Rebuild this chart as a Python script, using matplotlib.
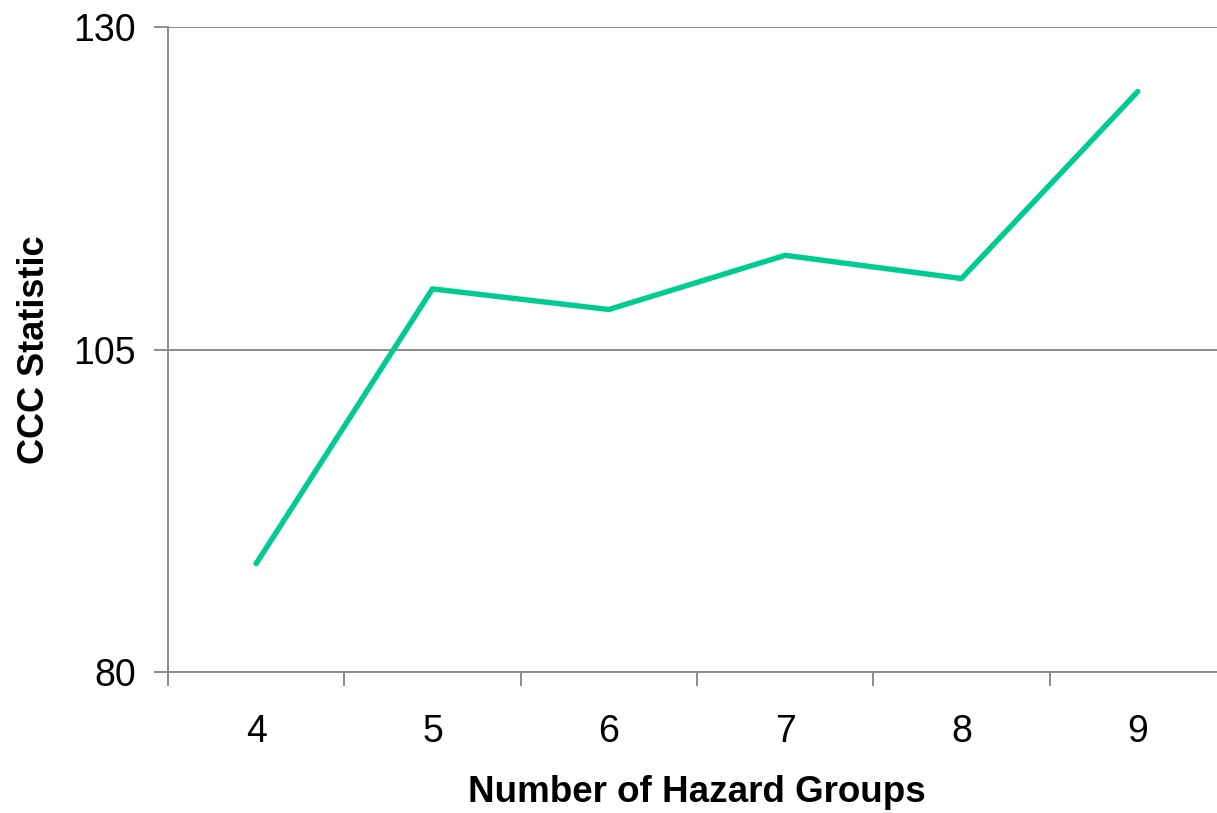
import matplotlib.pyplot as plt

plt.rcParams['font.family'] = ['Liberation Sans', 'DejaVu Sans']

groups = [4, 5, 6, 7, 8, 9]
ccc = [88.4, 109.7, 108.1, 112.3, 110.5, 125.0]

fig = plt.figure(figsize=(12.17, 8.13), dpi=100)
ax = fig.add_axes([168 / 1217, 141 / 813, 1058 / 1217, 645 / 813])

ax.plot(groups, ccc, color='#00CC92', lw=3.9, solid_capstyle='round',
        solid_joinstyle='round', zorder=3)

ax.set_xlim(3.5, 9.5)
ax.set_ylim(80, 130)
ax.set_yticks([80, 105, 130])
ax.set_xticks(groups)
ax.set_xticks([g - 0.5 for g in groups] + [9.5], minor=True)
ax.yaxis.grid(True, color='#8c8c8c', lw=1.4)
ax.set_axisbelow(True)

for side in ['top', 'right']:
    ax.spines[side].set_visible(False)
for side in ['left', 'bottom']:
    ax.spines[side].set_color('#8c8c8c')
    ax.spines[side].set_linewidth(1.4)

ax.tick_params(axis='y', which='major', length=10, width=1.4, color='#8c8c8c',
               labelsize=27, pad=13)
ax.tick_params(axis='x', which='major', length=0, labelsize=27, pad=30)
ax.tick_params(axis='x', which='minor', length=10, width=1.4, color='#8c8c8c')

ax.set_xlabel('Number of Hazard Groups', fontsize=26.5, fontweight='bold',
              va='center')
ax.set_ylabel('CCC Statistic', fontsize=26, fontweight='bold', va='center')
ax.xaxis.set_label_coords((697 - 168) / 1058, (672 - 792) / 645)
ax.yaxis.set_label_coords((35 - 168) / 1058, (672 - 350) / 645)

fig.savefig('out.png', dpi=100)
plt.close(fig)
